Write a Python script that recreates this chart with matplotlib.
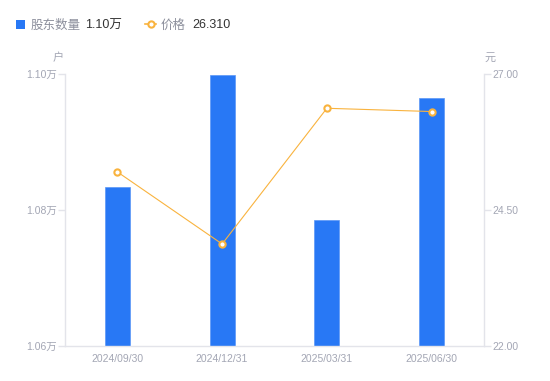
import matplotlib
matplotlib.use("Agg")
import matplotlib.pyplot as plt
from matplotlib.patches import Rectangle
from matplotlib.lines import Line2D

plt.rcParams['font.family'] = ['Liberation Sans', 'Noto Sans CJK SC', 'DejaVu Sans']

dates = ["2024/09/30", "2024/12/31", "2025/03/31", "2025/06/30"]
holders = [1.0834, 1.0998, 1.0786, 1.0964]   # 万户
prices = [25.20, 23.875, 26.37, 26.31]        # 元
left_ticks = [1.06, 1.08, 1.10]
right_ticks = [22.00, 24.50, 27.00]

BLUE = "#2878F5"
ORANGE = "#F9B33E"
AXIS = "#E3E4EA"
TICK = "#A3A6B4"

fig = plt.figure(figsize=(5.5, 3.81), dpi=100)
ax = fig.add_axes([65/550, 1-346/381, (484-65)/550, (346-74)/381])
x = list(range(len(dates)))
ax.bar(x, holders, width=0.24, color=BLUE, edgecolor="#5A97F7", linewidth=0.5, zorder=2)
ax.set_xlim(-0.5, len(dates)-0.5)
ax.set_ylim(left_ticks[0], left_ticks[-1])
ax.set_yticks(left_ticks)
ax.set_yticklabels([f"{v:.2f}万" for v in left_ticks])
ax.set_xticks(x)
ax.set_xticklabels(dates)
for s in ["top", "right"]:
    ax.spines[s].set_visible(False)
for s in ["left", "bottom"]:
    ax.spines[s].set_color(AXIS)
    ax.spines[s].set_linewidth(1)
ax.tick_params(axis='y', colors=AXIS, labelcolor=TICK, labelsize=7.5, length=5, width=1, pad=1)
ax.tick_params(axis='x', length=0, labelcolor=TICK, labelsize=7.5, pad=6)

ax2 = ax.twinx()
ax2.plot(x, prices, color=ORANGE, linewidth=0.8, marker='o', markersize=4.5,
         markerfacecolor='white', markeredgecolor=ORANGE, markeredgewidth=1.5, zorder=3)
ax2.set_ylim(right_ticks[0], right_ticks[-1])
ax2.set_yticks(right_ticks)
ax2.set_yticklabels([f"{v:.2f}" for v in right_ticks])
for s in ["top", "left", "bottom"]:
    ax2.spines[s].set_visible(False)
ax2.spines["right"].set_color(AXIS)
ax2.spines["right"].set_linewidth(1)
ax2.tick_params(axis='y', colors=AXIS, labelcolor=TICK, labelsize=7.5, length=5, width=1, pad=1)

# unit labels
fig.text(58/550, 1-58/381, "户", color=TICK, fontsize=8, ha='center', va='center')
fig.text(490/550, 1-58/381, "元", color=TICK, fontsize=8, ha='center', va='center')

# legend
ly = 1-25.5/381
fig.patches.append(Rectangle((16/550, 1-24/381-4.5/381), 9/550, 9/381, transform=fig.transFigure,
                             facecolor=BLUE, edgecolor='none'))
fig.text(31/550, ly, "股东数量", color="#8C8F9C", fontsize=9, va='center')
fig.text(85/550, ly, f"{holders[-1]:.2f}万", color="#333333", fontsize=9, va='center')
fig.lines.append(Line2D([145/550, 156/550], [1-24/381]*2, transform=fig.transFigure, color=ORANGE,
                        linewidth=1.2))
fig.lines.append(Line2D([150.5/550], [1-24/381], transform=fig.transFigure, color=ORANGE, marker='o',
                        markersize=4.5, markerfacecolor='white', markeredgewidth=1.5, linestyle='none'))
fig.text(161/550, ly, "价格", color="#8C8F9C", fontsize=9, va='center')
fig.text(192/550, ly, f"{prices[-1]:.3f}", color="#333333", fontsize=9, va='center')

fig.savefig("out.png", dpi=100, facecolor='white')
